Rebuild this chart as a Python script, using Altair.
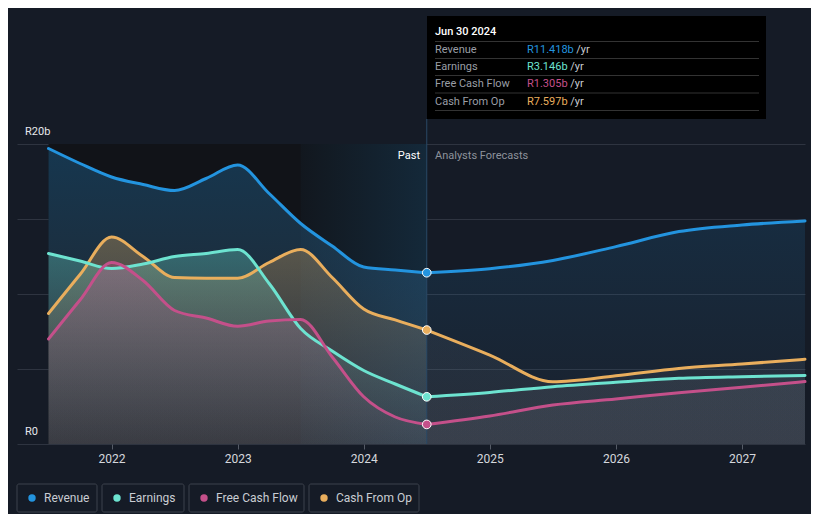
import altair as alt
import pandas as pd

# ---------------- data ----------------
past_years = [2021.5, 2021.75, 2022.0, 2022.25, 2022.5, 2022.75, 2023.0,
              2023.25, 2023.5, 2023.75, 2024.0, 2024.25, 2024.5]
fc_years = [2024.5, 2025.0, 2025.5, 2026.0, 2026.5, 2027.0, 2027.5]

revenue_past = [19.7, 18.7, 17.8, 17.3, 16.9, 17.7, 18.6, 16.7, 14.7, 13.2, 11.8, 11.6, 11.418]
earnings_past = [12.7, 12.2, 11.7, 12.0, 12.5, 12.7, 12.97, 10.7, 7.7, 6.2, 4.9, 4.0, 3.146]
fcf_past = [7.0, 9.6, 12.1, 10.9, 8.9, 8.4, 7.85, 8.2, 8.3, 5.8, 3.15, 1.8, 1.305]
cfo_past = [8.7, 11.3, 13.8, 12.5, 11.1, 11.05, 11.05, 12.1, 12.97, 11.1, 9.0, 8.27, 7.597]

revenue_fc = [11.418, 11.69, 12.24, 13.16, 14.16, 14.6, 14.87]
earnings_fc = [3.146, 3.44, 3.82, 4.11, 4.38, 4.49, 4.56]
fcf_fc = [1.305, 1.87, 2.6, 3.0, 3.42, 3.78, 4.16]
cfo_fc = [7.597, 5.93, 4.15, 4.55, 5.04, 5.33, 5.65]

series_names = ["Revenue", "Earnings", "Free Cash Flow", "Cash From Op"]
series_colors = ["#2394df", "#6de3d0", "#c4508a", "#e9ae5d"]
past_values = [revenue_past, earnings_past, fcf_past, cfo_past]
fc_values = [revenue_fc, earnings_fc, fcf_fc, cfo_fc]

tooltip_date = "Jun 30 2024"
past_span = [2021.5, 2024.5]
ltm_span = [2023.5, 2024.5]
x_ticks = [2022, 2023, 2024, 2025, 2026, 2027]
y_grid = [0, 5, 10, 15, 20]
x_domain = [2021.25, 2027.5]

BG = "#151b26"
FONT = "Roboto"


def rgba(hexc, a):
    h = hexc.lstrip("#")
    r, g, b = int(h[0:2], 16), int(h[2:4], 16), int(h[4:6], 16)
    return f"rgba({r},{g},{b},{a})"


xs = alt.X("year:Q", scale=alt.Scale(domain=x_domain, nice=False, zero=False),
           axis=alt.Axis(values=x_ticks, format="d", title=None, grid=False, domain=False,
                         labelColor="#d5d8dd", labelFontSize=12, labelFont=FONT,
                         tickColor="#555b66", tickSize=5, labelPadding=4))
ys = alt.Y("value:Q", scale=alt.Scale(domain=[0, 20], nice=False),
           axis=alt.Axis(values=y_grid, title=None, labels=False, ticks=False, domain=False,
                         grid=True, gridColor="#2e3440", gridWidth=1))

layers = []

# background regions
past_df = pd.DataFrame({"year": [past_span[0]], "year2": [past_span[1]]})
layers.append(alt.Chart(past_df).mark_rect(color="#111318").encode(
    x=xs, x2="year2:Q", y=alt.value(0), y2=alt.value(300)))
ltm_df = pd.DataFrame({"year": [ltm_span[0]], "year2": [ltm_span[1]]})
layers.append(alt.Chart(ltm_df).mark_rect(
    fill=alt.Gradient(gradient="linear",
                      stops=[alt.GradientStop(color=rgba("#2394df", 0.03), offset=0),
                             alt.GradientStop(color=rgba("#2394df", 0.17), offset=1)],
                      x1=0, x2=1, y1=0, y2=0)).encode(
    x=xs, x2="year2:Q", y=alt.value(0), y2=alt.value(300)))

# areas (draw order: revenue, cfo, earnings, fcf)
order = [0, 3, 1, 2]
for i in order:
    name, col = series_names[i], series_colors[i]
    dfp = pd.DataFrame({"year": past_years, "value": past_values[i]})
    dff = pd.DataFrame({"year": fc_years, "value": fc_values[i]})
    if i == 0:
        g_past = [rgba(col, 0.28), rgba("#5a6070", 0.22)]
        g_fc = [rgba(col, 0.14), rgba("#3a4a60", 0.12)]
    else:
        g_past = [rgba(col, 0.32), rgba("#7a7a80", 0.10)]
        g_fc = [rgba("#8a8f99", 0.10), rgba("#8a8f99", 0.10)]
    layers.append(alt.Chart(dfp).mark_area(
        interpolate="monotone",
        fill=alt.Gradient(gradient="linear",
                          stops=[alt.GradientStop(color=g_past[0], offset=0),
                                 alt.GradientStop(color=g_past[1], offset=1)],
                          x1=0, x2=0, y1=0, y2=1)).encode(x=xs, y=ys))
    layers.append(alt.Chart(dff).mark_area(
        interpolate="monotone",
        fill=alt.Gradient(gradient="linear",
                          stops=[alt.GradientStop(color=g_fc[0], offset=0),
                                 alt.GradientStop(color=g_fc[1], offset=1)],
                          x1=0, x2=0, y1=0, y2=1)).encode(x=xs, y=ys))

# vertical rule at the latest date
now_df = pd.DataFrame({"year": [past_span[1]]})
layers.append(alt.Chart(now_df).mark_rule(color="#2a4866", strokeWidth=1).encode(
    x=xs, y=alt.value(-25), y2=alt.value(300)))

# lines
for i in order:
    col = series_colors[i]
    dfp = pd.DataFrame({"year": past_years, "value": past_values[i]})
    dff = pd.DataFrame({"year": fc_years, "value": fc_values[i]})
    layers.append(alt.Chart(dfp).mark_line(interpolate="monotone", color=col, strokeWidth=3,
                                           strokeCap="round").encode(x=xs, y=ys))
    layers.append(alt.Chart(dff).mark_line(interpolate="monotone", color=col, strokeWidth=3,
                                           strokeCap="round").encode(x=xs, y=ys))

# dots at latest value
for i in order:
    col = series_colors[i]
    d = pd.DataFrame({"year": [past_years[-1]], "value": [past_values[i][-1]]})
    layers.append(alt.Chart(d).mark_point(filled=True, fill=col, stroke="#ffffff", strokeWidth=1,
                                          size=75, opacity=1).encode(x=xs, y=ys))

# y labels
ylab = pd.DataFrame({"value": [20, 0], "t": ["R20b", "R0"]})
layers.append(alt.Chart(ylab).mark_text(align="left", baseline="middle", dy=-12, color="#e6e8eb",
                                        fontSize=11, font=FONT).encode(
    x=alt.value(8), y=ys, text="t:N"))

# Past / Analysts Forecasts labels
layers.append(alt.Chart(pd.DataFrame({"t": ["Past"]})).mark_text(
    align="right", baseline="middle", color="#ffffff", fontSize=11, font=FONT).encode(
    x=alt.value(403), y=alt.value(12), text="t:N"))
layers.append(alt.Chart(pd.DataFrame({"t": ["Analysts Forecasts"]})).mark_text(
    align="left", baseline="middle", color="#8d929b", fontSize=11, font=FONT).encode(
    x=alt.value(418), y=alt.value(12), text="t:N"))

# tooltip box
layers.append(alt.Chart(pd.DataFrame({"a": [0]})).mark_rect(color="#000000").encode(
    x=alt.value(410), x2=alt.value(749), y=alt.value(-128), y2=alt.value(-25)))
layers.append(alt.Chart(pd.DataFrame({"t": [tooltip_date]})).mark_text(
    align="left", baseline="middle", color="#ffffff", fontSize=11, font=FONT, fontWeight=500).encode(
    x=alt.value(418), y=alt.value(-112.5), text="t:N"))
for yy in [-102.5, -85.5, -68.5, -51, -33.5]:
    layers.append(alt.Chart(pd.DataFrame({"a": [0]})).mark_rule(color="#333333", strokeWidth=1).encode(
        x=alt.value(418), x2=alt.value(742), y=alt.value(yy)))
row_y = [-94.5, -77.5, -60, -42.5]
for k in range(4):
    val = f"R{past_values[k][-1]:.3f}b"
    layers.append(alt.Chart(pd.DataFrame({"t": [series_names[k]]})).mark_text(
        align="left", baseline="middle", color="#9a9ea6", fontSize=11, font=FONT).encode(
        x=alt.value(418), y=alt.value(row_y[k]), text="t:N"))
    layers.append(alt.Chart(pd.DataFrame({"t": [val]})).mark_text(
        align="left", baseline="middle", color=series_colors[k], fontSize=11, font=FONT).encode(
        x=alt.value(510), y=alt.value(row_y[k]), text="t:N"))
    layers.append(alt.Chart(pd.DataFrame({"t": ["/yr"]})).mark_text(
        align="left", baseline="middle", color="#c8ccd2", fontSize=11, font=FONT).encode(
        x=alt.value(510 + len(val) * 5.9 + 2), y=alt.value(row_y[k]), text="t:N"))

# legend
box_x = [(0, 80), (85, 167), (172, 287), (292, 402)]
for k in range(4):
    x0, x1 = box_x[k]
    layers.append(alt.Chart(pd.DataFrame({"a": [0]})).mark_rect(
        fill=BG, stroke="#3d424c", strokeWidth=1, cornerRadius=2).encode(
        x=alt.value(x0), x2=alt.value(x1), y=alt.value(340), y2=alt.value(368)))
    layers.append(alt.Chart(pd.DataFrame({"a": [0]})).mark_circle(
        color=series_colors[k], size=55, opacity=1).encode(
        x=alt.value(x0 + 15), y=alt.value(354)))
    layers.append(alt.Chart(pd.DataFrame({"t": [series_names[k]]})).mark_text(
        align="left", baseline="middle", color="#c9cdd3", fontSize=12, font=FONT).encode(
        x=alt.value(x0 + 27), y=alt.value(354), text="t:N"))

chart = alt.layer(*layers).properties(
    width=788, height=300, autosize="none",
    padding={"left": 9, "top": 136, "right": 6, "bottom": 70},
    background=BG,
).configure_view(stroke=None)

chart.save("out.html", embed_options={"renderer": "svg", "actions": False})
